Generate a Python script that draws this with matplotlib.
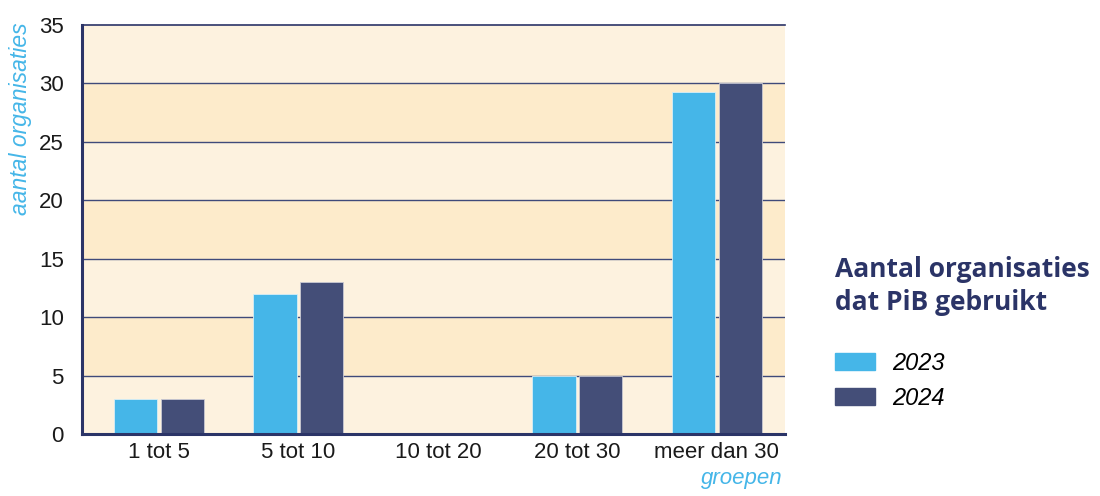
import numpy as np
import matplotlib
matplotlib.use("Agg")
import matplotlib.pyplot as plt
from matplotlib.patches import Patch

# data
groepen = ["1 tot 5", "5 tot 10", "10 tot 20", "20 tot 30", "meer dan 30"]
jaren = ["2023", "2024"]
waarden_2023 = [3, 12, 0, 5, 29.3]
waarden_2024 = [3, 13, 0, 5, 30]
yticks = [0, 5, 10, 15, 20, 25, 30, 35]

blauw = "#45B6E8"
navy = "#444E78"
donker = "#2B3467"
licht = "#FDF2DF"
band = "#FDEBCB"

fig = plt.figure(figsize=(11, 4.96), dpi=100)
ax = fig.add_axes([0.0745, 0.125, 0.639, 0.8246])

# achtergrond banden
for i in range(7):
    kleur = band if i % 2 == 1 else licht
    ax.axhspan(i * 5, (i + 1) * 5, color=kleur, zorder=0, lw=0)
for y in yticks[1:-1]:
    ax.axhline(y, color="#3F4A7A", lw=1.0, zorder=1)

x = np.arange(len(groepen))
w = 0.31
off = 0.168
ax.bar(x - off, waarden_2023, w, color=blauw, edgecolor="#D8EEF6", lw=0.6, zorder=2)
ax.bar(x + off, waarden_2024, w, color=navy, edgecolor="#C9C9D3", lw=0.6, zorder=2)

ax.set_xlim(-0.552, 4.487)
ax.set_ylim(0, 35)
ax.set_xticks(x)
ax.set_xticklabels(groepen, fontsize=16, family="Liberation Sans", color="#1A1A1A")
ax.set_yticks(yticks)
ax.set_yticklabels([str(v) for v in yticks], fontsize=16, family="Liberation Sans", color="#1A1A1A")
ax.tick_params(length=0, pad=6)
ax.tick_params(axis="y", pad=13)

ax.spines["right"].set_visible(False)
ax.spines["top"].set_color(donker)
ax.spines["top"].set_linewidth(1.2)
ax.spines["left"].set_color(donker)
ax.spines["left"].set_linewidth(2.2)
ax.spines["bottom"].set_color(donker)
ax.spines["bottom"].set_linewidth(2.2)

fig.text(0.019, 0.955, "aantal organisaties", rotation=90, ha="center", va="top",
         fontsize=16.5, style="italic", color=blauw, family="Liberation Sans")
fig.text(0.711, 0.015, "groepen", ha="right", va="bottom",
         fontsize=16, style="italic", color=blauw, family="Liberation Sans")

# legenda
fig.text(0.759, 0.423, "Aantal organisaties\ndat PiB gebruikt", ha="left", va="center",
         fontsize=19, fontweight="bold", color=donker, family="Open Sans", linespacing=1.3)
handles = [Patch(color=blauw), Patch(color=navy)]
leg = fig.legend(handles, jaren, loc="upper left", bbox_to_anchor=(0.740, 0.333),
                 frameon=False, handlelength=1.7, handleheight=0.75,
                 prop={"family": "Liberation Sans", "style": "italic", "size": 17},
                 labelspacing=0.5, handletextpad=0.7)

fig.savefig("out.png", dpi=100)
